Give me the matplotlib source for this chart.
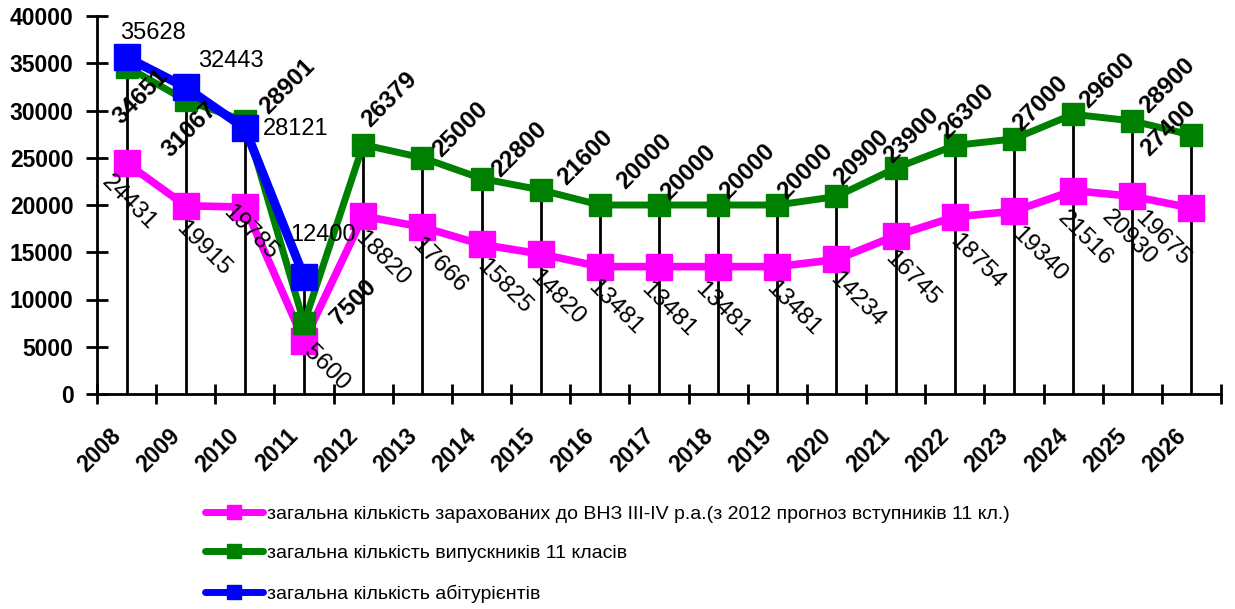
import matplotlib
matplotlib.use('Agg')
import matplotlib.pyplot as plt
from matplotlib.lines import Line2D
from matplotlib.transforms import ScaledTranslation

# ---------------- data ----------------
years = [str(y) for y in range(2008, 2027)]
enrolled = [24431, 19915, 19785, 5600, 18820, 17666, 15825, 14820, 13481, 13481,
            13481, 13481, 14234, 16745, 18754, 19340, 21516, 20930, 19675]
graduates = [34651, 31067, 28901, 7500, 26379, 25000, 22800, 21600, 20000, 20000,
             20000, 20000, 20900, 23900, 26300, 27000, 29600, 28900, 27400]
applicants = [35628, 32443, 28121, 12400]
y_ticks = [0, 5000, 10000, 15000, 20000, 25000, 30000, 35000, 40000]
series_names = [
    "загальна кількість зарахованих до ВНЗ III-IV р.а.(з 2012 прогноз вступників 11 кл.)",
    "загальна кількість випускників 11 класів",
    "загальна кількість абітурієнтів",
]

# ---------------- label placement (pixel offsets, image coords: +y = down) ----------------
pink_off = [(2, 39), (17, 43), (5, 26), (22, 27), (19, 42), (17, 39), (23, 42), (17, 44),
            (15, 41), (9, 43), (4, 43), (16, 42), (21, 40), (17, 43), (22, 45), (25, 43),
            (12, 48), (-3, 41), (-29, 31)]
green_off = [(14, 30), (4, 29), (42, -34), (49, -21), (26, -45), (38, -28), (38, -29),
             (45, -32), (45, -43), (29, -32), (29, -33), (28, -33), (25, -39), (16, -33),
             (12, -34), (26, -35), (34, -34), (35, -35), (-23, -7)]
blue_off = [(26, -24), (45, -26), (51, 1), (19, -42)]

PINK = '#FF00FF'
GREEN = '#008000'
BLUE = '#0000FF'
FONT = 'Liberation Sans'

plt.rcParams['font.family'] = [FONT, 'DejaVu Sans']

W, H, DPI = 1235, 609, 100
fig = plt.figure(figsize=(W / DPI, H / DPI), dpi=DPI, facecolor='white')
ax = fig.add_axes([97 / W, 1 - 394 / H, (1221 - 97) / W, (394 - 16) / H])

x = list(range(len(years)))
xa = x[:len(applicants)]

# drop lines
tops = []
for i in x:
    vals = [enrolled[i], graduates[i]]
    if i < len(applicants):
        vals.append(applicants[i])
    tops.append(max(vals))
ax.vlines(x, 0, tops, color='black', lw=2.0, zorder=2)

ax.plot(x, enrolled, color=PINK, lw=5.5, marker='s', ms=18.5, zorder=3,
        solid_joinstyle='round')
ax.plot(x, graduates, color=GREEN, lw=5, marker='s', ms=16, zorder=4,
        solid_joinstyle='round')
ax.plot(xa, applicants, color=BLUE, lw=6.5, marker='s', ms=19, zorder=5,
        solid_joinstyle='round')

for i, v in enumerate(enrolled):
    dx, dy = pink_off[i]
    ax.annotate(str(v), (i, v), xytext=(dx, -dy), textcoords='offset pixels',
                ha='center', va='center', rotation=-45, fontsize=17.5, zorder=6)
for i, v in enumerate(graduates):
    dx, dy = green_off[i]
    ax.annotate(str(v), (i, v), xytext=(dx, -dy), textcoords='offset pixels',
                ha='center', va='center', rotation=45, fontsize=17.5,
                fontweight='bold', zorder=6)
for i, v in enumerate(applicants):
    dx, dy = blue_off[i]
    ax.annotate(str(v), (i, v), xytext=(dx, -dy), textcoords='offset pixels',
                ha='center', va='center', fontsize=17, zorder=6)

# axes styling
ax.set_xlim(-0.5, len(years) - 0.5)
ax.set_ylim(0, 40000)
for s in ['top', 'right']:
    ax.spines[s].set_visible(False)
for s in ['left', 'bottom']:
    ax.spines[s].set_linewidth(2)
    ax.spines[s].set_zorder(7)

ax.set_yticks(y_ticks)
ax.set_yticklabels([str(t) for t in y_ticks], fontsize=16.5, fontweight='bold')
ax.tick_params(axis='y', direction='inout', length=16, width=2, pad=9)

ax.set_xticks(x)
ax.set_xticklabels(years, fontsize=16.5, fontweight='bold', rotation=45,
                   ha='right', va='top', rotation_mode='anchor')
ax.tick_params(axis='x', which='major', length=0, pad=22)
ax.set_xticks([i - 0.5 for i in range(len(years) + 1)], minor=True)
ax.tick_params(axis='x', which='minor', direction='inout', length=15, width=2)
shift = ScaledTranslation(-17 / DPI, 0, fig.dpi_scale_trans)
for lab in ax.get_xticklabels():
    lab.set_transform(lab.get_transform() + shift)

# legend
handles = [
    Line2D([], [], color=PINK, lw=5, marker='s', ms=10, solid_capstyle='round'),
    Line2D([], [], color=GREEN, lw=5, marker='s', ms=10, solid_capstyle='round'),
    Line2D([], [], color=BLUE, lw=5, marker='s', ms=10, solid_capstyle='round'),
]
leg_fs = 14
fs_px = leg_fs * DPI / 72
leg = fig.legend(handles, series_names, loc='upper left',
                 bbox_to_anchor=(205 / W, 1 - 505 / H), frameon=False,
                 borderpad=0, borderaxespad=0, handlelength=58 / fs_px,
                 handletextpad=4 / fs_px, labelspacing=22 / fs_px,
                 prop={'family': [FONT, 'DejaVu Sans'], 'size': leg_fs})

fig.savefig('out.png', dpi=DPI, facecolor='white')
